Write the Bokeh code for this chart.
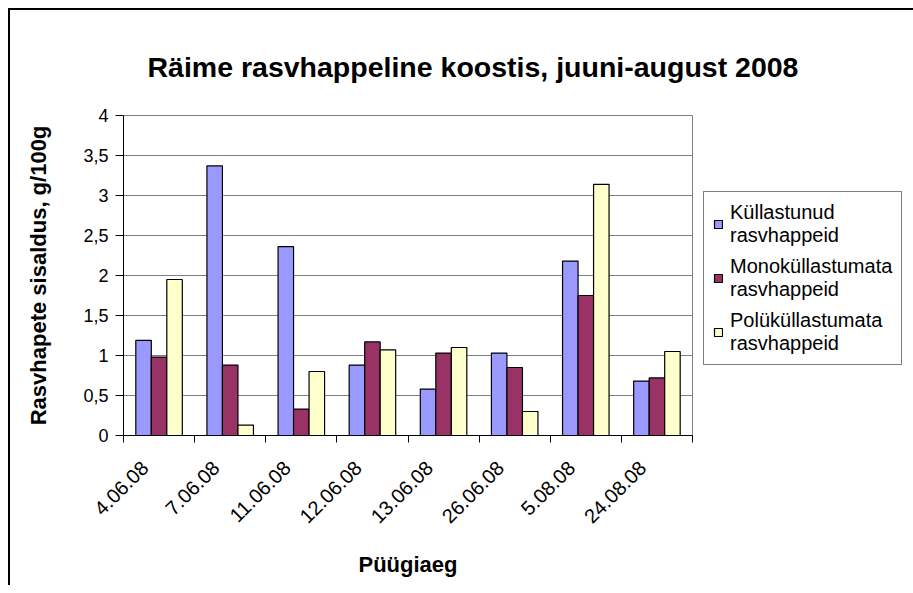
from bokeh.plotting import figure
from bokeh.models import (ColumnDataSource, FixedTicker, Legend, LegendItem, Range1d)
from bokeh.embed import file_html
from bokeh.resources import INLINE

dates = ["4.06.08", "7.06.08", "11.06.08", "12.06.08", "13.06.08", "26.06.08", "5.08.08", "24.08.08"]
kyllastunud = [1.19, 3.37, 2.36, 0.88, 0.58, 1.03, 2.18, 0.68]
monokyllastumata = [0.98, 0.88, 0.33, 1.17, 1.03, 0.85, 1.75, 0.72]
polykyllastumata = [1.95, 0.13, 0.80, 1.07, 1.10, 0.30, 3.14, 1.05]
series_names = ["Küllastunud\nrasvhappeid", "Monoküllastumata\nrasvhappeid", "Polüküllastumata\nrasvhappeid"]
colors = ["#9999FF", "#993366", "#FFFFCC"]
y_ticks = [0, 0.5, 1, 1.5, 2, 2.5, 3, 3.5, 4]
y_tick_labels = ["0", "0,5", "1", "1,5", "2", "2,5", "3", "3,5", "4"]

FONT = "Liberation Sans"

p = figure(frame_width=569, frame_height=320, output_backend="svg", toolbar_location=None,
           x_range=Range1d(0, len(dates)), y_range=Range1d(0, 4),
           min_border_left=115, min_border_right=0, min_border_top=107, min_border_bottom=150,
           title="Räime rasvhappeline koostis, juuni-august 2008")
p.margin = (8, 0, 0, 8)
p.border_fill_color = None
p.background_fill_color = "white"
p.styles = {"box-shadow": "inset 2px 2px 0 0 black", "background": "white"}

p.title.text_font = FONT
p.title.text_font_size = "28.5px"
p.title.text_font_style = "bold"
p.title.text_color = "black"
p.title.align = "left"
p.title.offset = 24
p.title.standoff = 66

n = len(dates)
bw = 0.218
centers = [i + 0.5 for i in range(n)]
items = []
for k, (vals, col, name) in enumerate(zip([kyllastunud, monokyllastumata, polykyllastumata], colors, series_names)):
    xs = [c + (k - 1) * bw for c in centers]
    src = ColumnDataSource(dict(x=xs, top=vals))
    r = p.vbar(x="x", top="top", width=bw, bottom=0, source=src,
               fill_color=col, line_color="black", line_width=1.2)
    items.append(LegendItem(label=name, renderers=[r]))

# x axis: group-boundary ticks, rotated labels slightly left of each group centre
label_pos = [c - 0.2 for c in centers]
xa = p.xaxis[0]
xa.ticker = FixedTicker(ticks=label_pos, minor_ticks=list(range(n + 1)))
xa.major_label_overrides = {c: d for c, d in zip(label_pos, dates)}
xa.major_tick_out = 0
xa.major_tick_in = 0
xa.minor_tick_out = 7
xa.minor_tick_in = 0
xa.minor_tick_line_color = "black"
xa.axis_line_color = "black"
xa.major_label_orientation = 0.785398
xa.major_label_text_font = FONT
xa.major_label_text_font_size = "20px"
xa.major_label_text_color = "black"
xa.major_label_standoff = 22
xa.axis_label = "Püügiaeg"
xa.axis_label_text_font = FONT
xa.axis_label_text_font_size = "22px"
xa.axis_label_text_font_style = "bold"
xa.axis_label_text_color = "black"
xa.axis_label_standoff = 20

# y axis
ya = p.yaxis[0]
ya.ticker = FixedTicker(ticks=y_ticks)
ya.major_label_overrides = {t: l for t, l in zip(y_ticks, y_tick_labels)}
ya.major_tick_out = 8
ya.major_tick_in = 0
ya.minor_tick_out = 0
ya.minor_tick_in = 0
ya.axis_line_color = "black"
ya.major_tick_line_color = "black"
ya.major_label_text_font = FONT
ya.major_label_text_font_size = "18px"
ya.major_label_text_color = "black"
ya.major_label_standoff = 7
ya.axis_label = "Rasvhapete sisaldus, g/100g"
ya.axis_label_text_font = FONT
ya.axis_label_text_font_size = "22px"
ya.axis_label_text_font_style = "bold"
ya.axis_label_text_color = "black"
ya.axis_label_standoff = 29

p.xgrid.grid_line_color = None
p.ygrid.ticker = FixedTicker(ticks=y_ticks)
p.ygrid.grid_line_color = "#808080"
p.ygrid.grid_line_width = 1
p.outline_line_color = "#808080"
p.outline_line_width = 1

legend = Legend(items=items, location=(11, 70), orientation="vertical")
legend.label_text_font = FONT
legend.label_text_font_size = "20px"
legend.label_text_line_height = 1.15
legend.label_text_color = "black"
legend.glyph_width = 10
legend.glyph_height = 10
legend.label_standoff = 7
legend.spacing = 8
legend.padding = 9
legend.margin = 0
legend.border_line_color = "black"
legend.border_line_width = 1
legend.background_fill_color = "white"
p.add_layout(legend, "right")

open("out.html", "w").write(file_html(p, INLINE))
